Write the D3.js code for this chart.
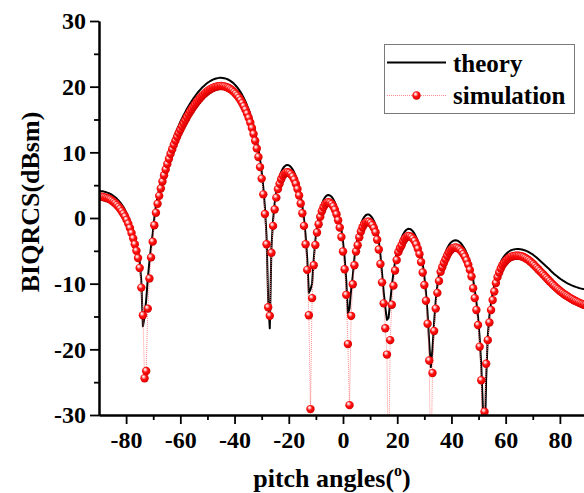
<!DOCTYPE html>
<html><head><meta charset="utf-8">
<script src="https://cdn.jsdelivr.net/npm/d3@7"></script>
<style>
html,body{margin:0;padding:0;background:#fff;}
svg{display:block;}
text{font-family:"Liberation Serif","Times New Roman",serif;font-weight:bold;fill:#000;}
</style></head><body>
<svg id="chart" width="584" height="493"></svg>
<script>
// Pitch angle samples (degrees)
const pitchAngles = [-90,-89.4,-88.8,-88.2,-87.6,-87,-86.4,-85.8,-85.2,-84.6,-84,-83.4,-82.8,-82.2,-81.6,-81,-80.4,-79.8,-79.2,-78.6,-78,-77.4,-76.8,-76.2,-75.6,-75,-74.4,-73.8,-73.2,-72.6,-72,-71.4,-70.8,-70.2,-69.6,-69,-68.4,-67.8,-67.2,-66.6,-66,-65.4,-64.8,-64.2,-63.6,-63,-62.4,-61.8,-61.2,-60.6,-60,-59.4,-58.8,-58.2,-57.6,-57,-56.4,-55.8,-55.2,-54.6,-54,-53.4,-52.8,-52.2,-51.6,-51,-50.4,-49.8,-49.2,-48.6,-48,-47.4,-46.8,-46.2,-45.6,-45,-44.4,-43.8,-43.2,-42.6,-42,-41.4,-40.8,-40.2,-39.6,-39,-38.4,-37.8,-37.2,-36.6,-36,-35.4,-34.8,-34.2,-33.6,-33,-32.4,-31.8,-31.2,-30.6,-30,-29.4,-28.8,-28.2,-27.6,-27,-26.4,-25.8,-25.2,-24.6,-24,-23.4,-22.8,-22.2,-21.6,-21,-20.4,-19.8,-19.2,-18.6,-18,-17.4,-16.8,-16.2,-15.6,-15,-14.4,-13.8,-13.2,-12.6,-12,-11.4,-10.8,-10.2,-9.6,-9,-8.4,-7.8,-7.2,-6.6,-6,-5.4,-4.8,-4.2,-3.6,-3,-2.4,-1.8,-1.2,-0.6,0,0.6,1.2,1.8,2.4,3,3.6,4.2,4.8,5.4,6,6.6,7.2,7.8,8.4,9,9.6,10.2,10.8,11.4,12,12.6,13.2,13.8,14.4,15,15.6,16.2,16.8,17.4,18,18.6,19.2,19.8,20.4,21,21.6,22.2,22.8,23.4,24,24.6,25.2,25.8,26.4,27,27.6,28.2,28.8,29.4,30,30.6,31.2,31.8,32.4,33,33.6,34.2,34.8,35.4,36,36.6,37.2,37.8,38.4,39,39.6,40.2,40.8,41.4,42,42.6,43.2,43.8,44.4,45,45.6,46.2,46.8,47.4,48,48.6,49.2,49.8,50.4,51,51.6,52.2,52.8,53.4,54,54.6,55.2,55.8,56.4,57,57.6,58.2,58.8,59.4,60,60.6,61.2,61.8,62.4,63,63.6,64.2,64.8,65.4,66,66.6,67.2,67.8,68.4,69,69.6,70.2,70.8,71.4,72,72.6,73.2,73.8,74.4,75,75.6,76.2,76.8,77.4,78,78.6,79.2,79.8,80.4,81,81.6,82.2,82.8,83.4,84,84.6,85.2,85.8,86.4,87,87.6,88.2,88.8,89.4,90];

// Theoretical bistatic RCS (dBsm)
const theoryDb = [4.10,4.09,4.06,4.02,3.95,3.87,3.78,3.66,3.51,3.35,
3.16,2.92,2.66,2.38,2.04,1.66,1.22,0.71,0.14,-0.51,
-1.28,-2.1,-3.0,-4.0,-5.1,-6.6,-9.6,-16.5,-15.0,-12.5,
-9.3,-6.6,-4.3,-2.4,0.0,1.90,3.26,4.47,5.60,6.66,
7.60,8.49,9.32,10.11,10.87,11.57,12.25,12.88,13.49,14.07,
14.63,15.15,15.64,16.12,16.59,17.03,17.44,17.82,18.20,18.54,
18.88,19.19,19.48,19.75,20.00,20.23,20.44,20.63,20.79,20.94,
21.07,21.16,21.24,21.30,21.34,21.35,21.33,21.29,21.22,21.13,
21.00,20.84,20.66,20.43,20.18,19.89,19.55,19.17,18.75,18.27,
17.75,17.16,16.51,15.78,14.96,14.05,13.01,11.84,10.49,8.91,
7.05,4.67,1.6,-2.86,-12.5,-16.8,-4.58,-0.34,2.26,4.06,
5.36,6.31,7.01,7.52,7.85,8.04,8.08,7.98,7.77,7.42,
6.95,6.31,5.51,4.53,3.31,1.82,-0.08,-2.60,-6.2,-11.4,
-10.9,-10.0,-6.3,-3.4,-1.3,0.15,1.28,2.13,2.74,3.18,
3.43,3.51,3.44,3.23,2.88,2.37,1.67,0.77,-0.36,-1.78,
-3.59,-6.03,-9.53,-14.5,-13.8,-11.0,-8.8,-6.2,-4.1,-3.06,
-1.84,-0.96,-0.31,0.14,0.42,0.55,0.52,0.34,0.02,-0.44,
-1.07,-2.1,-3.5,-5.6,-8.4,-11.3,-13.6,-15.5,-15.2,-12.8,
-10.4,-8.4,-6.7,-5.3,-4.3,-3.80,-3.04,-2.46,-2.05,-1.79,
-1.65,-1.66,-1.79,-2.04,-2.41,-2.91,-3.58,-4.40,-5.43,-7.0,
-8.9,-11.3,-14.6,-19.0,-22.7,-20.0,-15.9,-12.6,-10.3,-8.5,
-7.3,-6.5,-5.8,-5.25,-4.64,-4.17,-3.83,-3.59,-3.45,-3.39,
-3.42,-3.54,-3.73,-4.01,-4.37,-4.80,-5.35,-5.99,-6.75,-7.63,
-9.4,-11.0,-12.8,-15.0,-18.2,-22.5,-29.0,-36.0,-24.5,-18.0,
-14.9,-13.0,-11.5,-10.2,-9.0,-8.1,-7.3,-6.7,-6.2,-5.85,
-5.55,-5.3,-5.1,-4.95,-4.85,-4.78,-4.74,-4.72,-4.72,-4.75,
-4.8,-4.86,-4.94,-5.04,-5.16,-5.3,-5.45,-5.62,-5.82,-6.03,
-6.25,-6.48,-6.7,-6.93,-7.15,-7.37,-7.6,-7.85,-8.1,-8.33,
-8.55,-8.76,-8.96,-9.15,-9.33,-9.5,-9.65,-9.8,-9.94,-10.07,
-10.19,-10.3,-10.4,-10.49,-10.57,-10.65,-10.72,-10.78,-10.83,-10.87,
-10.9];

// Simulated bistatic RCS (dBsm)
const simulationDb = [3.25,3.24,3.21,3.17,3.10,3.02,2.93,2.81,2.64,2.45,
2.24,1.98,1.70,1.40,1.04,0.66,0.22,-0.29,-0.86,-1.51,
-2.28,-3.1,-4.0,-5.0,-6.1,-7.6,-10.6,-14.8,-24.4,-23.3,
-13.8,-9.2,-6.0,-3.6,-1.1,0.80,2.16,3.37,4.50,5.56,
6.50,7.39,8.22,9.01,9.77,10.47,11.15,11.78,12.37,12.93,
13.45,13.95,14.42,14.89,15.35,15.78,16.19,16.57,16.95,17.29,
17.63,17.94,18.23,18.50,18.75,18.98,19.19,19.38,19.54,19.69,
19.82,19.91,19.99,20.05,20.09,20.10,20.08,20.04,19.97,19.88,
19.75,19.59,19.41,19.18,18.93,18.64,18.30,17.92,17.50,17.02,
16.50,15.91,15.26,14.53,13.71,12.80,11.76,10.59,9.3,7.75,
6.0,3.6,0.6,-4.0,-13.6,-14.9,-5.3,-1.2,1.3,3.1,
4.4,5.2,5.91,6.42,6.75,6.94,6.98,6.88,6.67,6.32,
5.85,5.21,4.41,3.43,2.21,0.72,-1.2,-4.0,-7.9,-14.8,
-29.1,-12.2,-7.2,-4.1,-2.2,-0.95,0.18,1.03,1.64,2.08,
2.33,2.41,2.34,2.13,1.78,1.27,0.57,-0.33,-1.46,-2.9,
-5.1,-7.8,-11.7,-19.2,-28.5,-14.9,-10.1,-7.2,-5.1,-4.16,
-2.94,-2.06,-1.41,-0.96,-0.68,-0.55,-0.58,-0.76,-1.08,-1.54,
-2.17,-3.3,-4.8,-7.0,-9.8,-13.0,-16.8,-20.8,-40,-18.6,
-13.2,-10.3,-8.0,-6.4,-5.2,-4.6,-4.14,-3.56,-3.15,-2.89,
-2.75,-2.76,-2.89,-3.14,-3.51,-4.01,-4.68,-5.5,-6.7,-8.3,
-10.2,-12.6,-16.1,-21.7,-40,-23.6,-17.2,-13.8,-11.4,-9.6,
-8.2,-7.5,-6.85,-6.3,-5.74,-5.27,-4.93,-4.69,-4.55,-4.49,
-4.52,-4.64,-4.83,-5.11,-5.47,-5.9,-6.45,-7.1,-7.9,-8.9,
-10.7,-12.2,-14.0,-16.3,-19.6,-24.7,-38,-29.5,-22.2,-18.6,
-15.9,-14.0,-12.5,-11.2,-9.9,-9.0,-8.3,-7.7,-7.2,-6.85,
-6.55,-6.3,-6.1,-5.95,-5.85,-5.8,-5.76,-5.75,-5.76,-5.8,
-5.86,-5.95,-6.08,-6.23,-6.4,-6.6,-6.82,-7.05,-7.3,-7.55,
-7.8,-8.06,-8.32,-8.58,-8.84,-9.1,-9.36,-9.62,-9.88,-10.13,
-10.37,-10.6,-10.82,-11.03,-11.23,-11.42,-11.6,-11.77,-11.93,-12.09,
-12.24,-12.38,-12.52,-12.65,-12.77,-12.89,-13.0,-13.1,-13.2,-13.29,
-13.37];

const xMajorTicks = [-80,-60,-40,-20,0,20,40,60,80];
const xMinorTicks = [-70,-50,-30,-10,10,30,50,70,90];
const yMajorTicks = [-30,-20,-10,0,10,20,30];
const yMinorTicks = [-25,-15,-5,5,15,25];
const legendLabels = ["theory","simulation"];
const xTitle = "pitch angles(";
const yTitle = "BIQRCS(dBsm)";

const svg = d3.select("#chart");
svg.append("rect").attr("width",584).attr("height",493).attr("fill","#fff");

const x = d3.scaleLinear().domain([-90,90]).range([99,587]);
const y = d3.scaleLinear().domain([-30,30]).range([415,21]);
const ballR = 4.2;

const defs = svg.append("defs");
const grad = defs.append("radialGradient").attr("id","ball")
  .attr("cx","0.45").attr("cy","0.42").attr("r","0.6").attr("fx","0.36").attr("fy","0.3");
[[0,"#ffffff"],[0.2,"#ffbcbc"],[0.48,"#ff1414"],[0.85,"#ea0000"],[1,"#b00000"]]
  .forEach(([o,c]) => grad.append("stop").attr("offset",o).attr("stop-color",c));
defs.append("clipPath").attr("id","plotClip").append("rect")
  .attr("x",99).attr("y",21).attr("width",488).attr("height",394);
defs.append("clipPath").attr("id","ballClip").append("rect")
  .attr("x",99).attr("y",10).attr("width",490).attr("height",410);

const rows = pitchAngles.map((a,i) => ({a, t: theoryDb[i], s: simulationDb[i]}));

// theory curve
const plot = svg.append("g").attr("clip-path","url(#plotClip)");
plot.append("path").datum(rows)
  .attr("d", d3.line().x(d => x(d.a)).y(d => y(d.t)))
  .attr("fill","none").attr("stroke","#000").attr("stroke-width",2).attr("stroke-linejoin","round");
// simulation connector
plot.append("path").datum(rows)
  .attr("d", d3.line().x(d => x(d.a)).y(d => y(d.s)))
  .attr("fill","none").attr("stroke","#ff8080").attr("stroke-width",0.9).attr("stroke-dasharray","1,1");
// simulation markers
svg.append("g").attr("clip-path","url(#ballClip)")
  .selectAll("circle").data(rows).join("circle")
  .attr("cx", d => x(d.a)).attr("cy", d => y(d.s)).attr("r",ballR)
  .attr("fill","url(#ball)");

// axes
const plainNum = d => String(d);
function styleAxis(g){
  g.selectAll("path.domain").attr("stroke","#000").attr("stroke-width",2);
  g.selectAll(".tick line").attr("stroke","#000").attr("stroke-width",1.8);
  g.selectAll("text").attr("font-size",24).attr("font-family",'"Liberation Serif","Times New Roman",serif').attr("font-weight","bold");
}
svg.append("g").attr("transform","translate(99,0)")
  .call(d3.axisLeft(y).tickValues(yMinorTicks).tickSize(5).tickSizeOuter(0).tickFormat(""))
  .call(styleAxis);
svg.append("g").attr("transform","translate(99,0)")
  .call(d3.axisLeft(y).tickValues(yMajorTicks).tickSize(9).tickSizeOuter(0).tickPadding(4).tickFormat(plainNum))
  .call(styleAxis);
svg.append("g").attr("transform","translate(0,415)")
  .call(d3.axisBottom(x).tickValues(xMinorTicks).tickSize(5).tickSizeOuter(0).tickFormat(""))
  .call(styleAxis);
svg.append("g").attr("transform","translate(0,415)")
  .call(d3.axisBottom(x).tickValues(xMajorTicks).tickSize(9).tickSizeOuter(0).tickPadding(7).tickFormat(plainNum))
  .call(styleAxis);

// axis titles
const xt = svg.append("text").attr("x",332).attr("y",487).attr("text-anchor","middle").attr("font-size",26);
xt.append("tspan").text(xTitle);
xt.append("tspan").attr("font-size",16).attr("dy",-11).text("o");
xt.append("tspan").attr("dy",11).text(")");
svg.append("text").attr("transform","translate(39,202) rotate(-90)")
  .attr("text-anchor","middle").attr("font-size",26).text(yTitle);

// legend
const lg = svg.append("g");
lg.append("rect").attr("x",384.5).attr("y",44.5).attr("width",190).attr("height",69)
  .attr("fill","#fff").attr("stroke","#7a7a7a").attr("stroke-width",1);
lg.append("line").attr("x1",387).attr("x2",446).attr("y1",62.5).attr("y2",62.5)
  .attr("stroke","#000").attr("stroke-width",2);
lg.append("line").attr("x1",387).attr("x2",446).attr("y1",95.5).attr("y2",95.5)
  .attr("stroke","#ff8080").attr("stroke-width",0.9).attr("stroke-dasharray","1,1");
lg.append("circle").attr("cx",416.5).attr("cy",95.5).attr("r",ballR).attr("fill","url(#ball)");
lg.selectAll("text.lab").data(legendLabels).join("text").attr("class","lab")
  .attr("x",453).attr("y",(d,i) => i ? 104 : 71.5).attr("font-size",25).text(d => d);
</script>
</body></html>
